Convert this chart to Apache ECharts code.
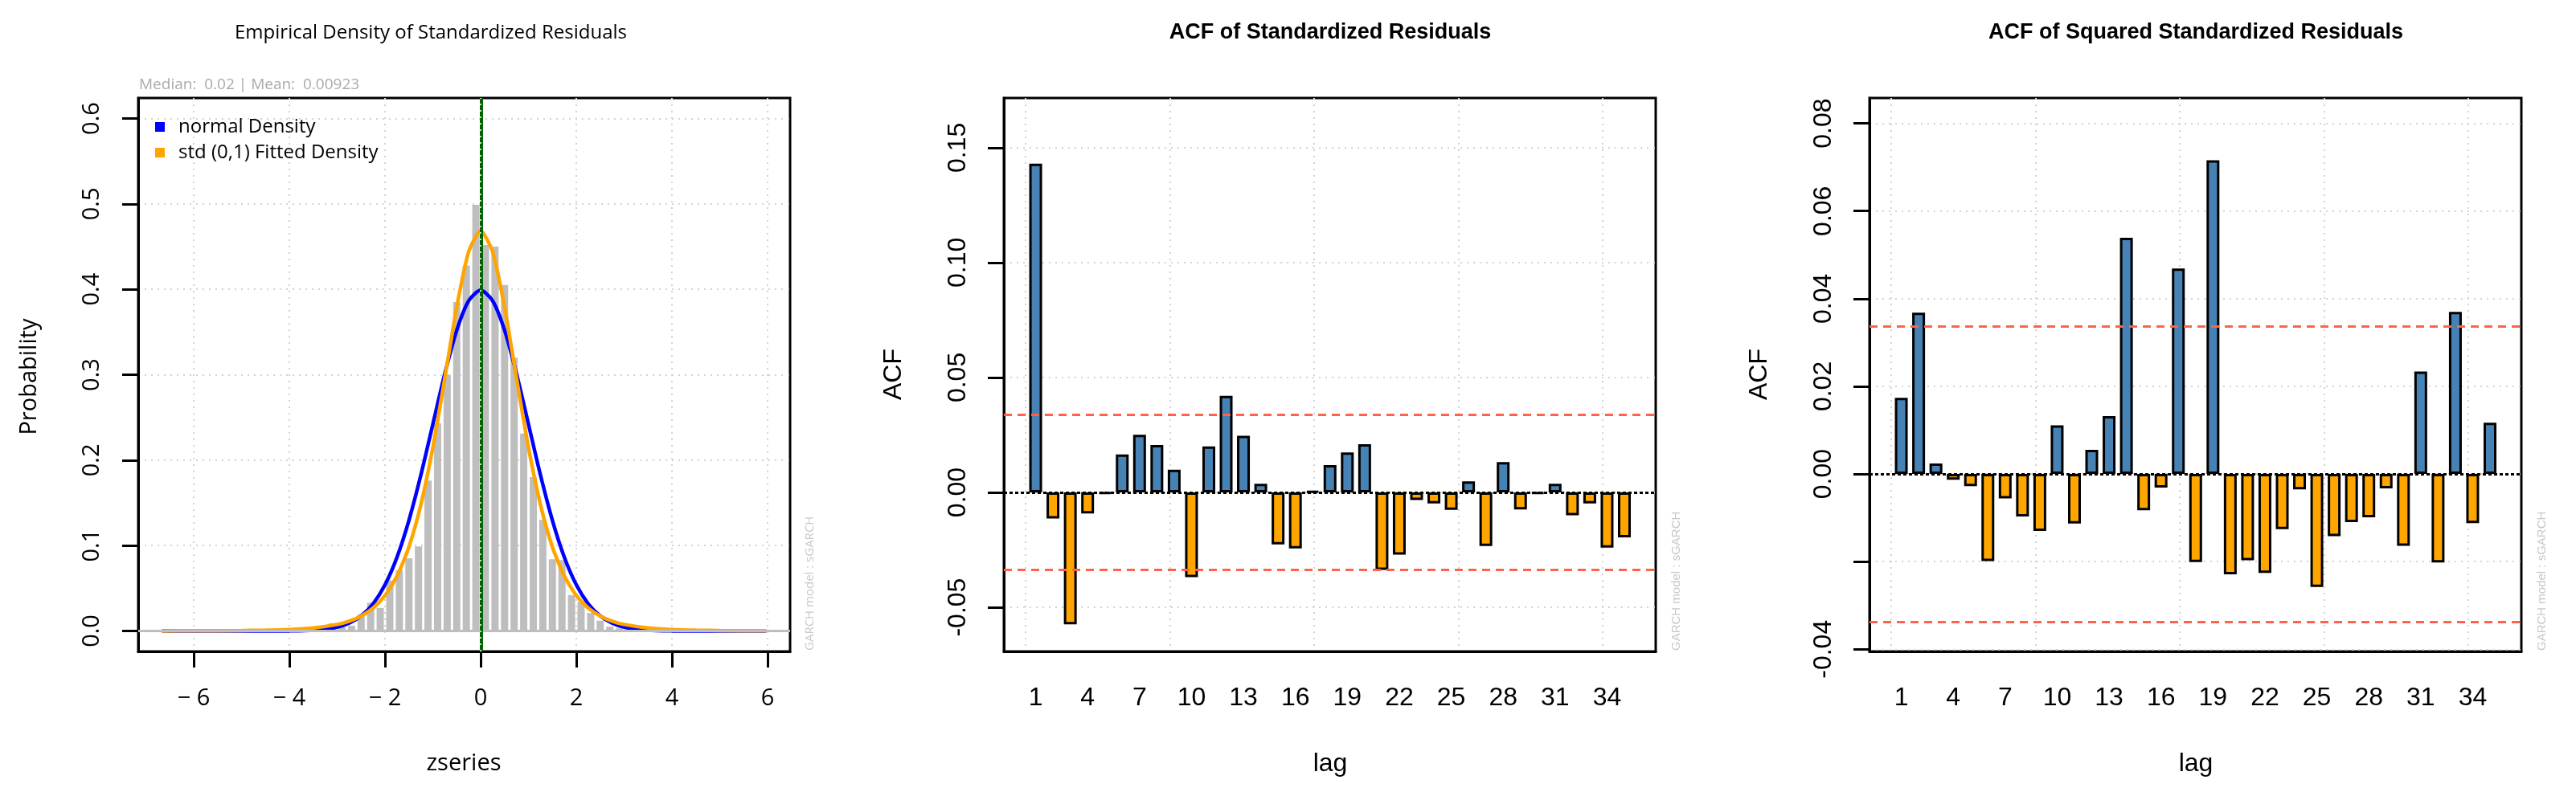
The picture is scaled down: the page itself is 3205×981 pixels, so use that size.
<!DOCTYPE html>
<html><head><meta charset="utf-8">
<script src="https://cdn.jsdelivr.net/npm/echarts@6/dist/echarts.min.js"></script>
<style>html,body{margin:0;padding:0;background:#fff}#c{width:3205px;height:981px}</style>
</head><body><div id="c"></div><script>
// ---------------- data ----------------
const histMid = [-3.7,-3.5,-3.3,-3.1,-2.9,-2.7,-2.5,-2.3,-2.1,-1.9,-1.7,-1.5,-1.3,-1.1,-0.9,-0.7,-0.5,-0.3,-0.1,0.1,0.3,0.5,0.7,0.9,1.1,1.3,1.5,1.7,1.9,2.1,2.3,2.5,2.7,2.9,3.1,3.3];
const histDensity = [0.001,0.002,0.003,0.009,0.004,0.006,0.0195,0.033,0.027,0.059,0.071,0.085,0.099,0.176,0.243,0.300,0.385,0.428,0.499,0.452,0.450,0.405,0.320,0.231,0.180,0.130,0.084,0.083,0.042,0.034,0.021,0.012,0.005,0.003,0.002,0.001];
const curveX = [-6.66,-6,-5,-4.5,-4,-3.5,-3,-2.75,-2.5,-2.25,-2,-1.75,-1.5,-1.25,-1,-0.75,-0.5,-0.25,0,0.25,0.5,0.75,1,1.25,1.5,1.75,2,2.25,2.5,2.75,3,3.5,4,4.5,5,5.97];
const normalDensity = [0,0,0,0,0.0001,0.0009,0.0044,0.0091,0.0175,0.0317,0.0540,0.0863,0.1295,0.1826,0.2420,0.3011,0.3521,0.3867,0.3989,0.3867,0.3521,0.3011,0.2420,0.1826,0.1295,0.0863,0.0540,0.0317,0.0175,0.0091,0.0044,0.0009,0.0001,0,0,0];
const stdDensity = [0.00007,0.00015,0.00046,0.00085,0.0017,0.0035,0.0076,0.0114,0.0174,0.0268,0.0414,0.0641,0.0983,0.1478,0.2147,0.2958,0.3792,0.4441,0.4688,0.4441,0.3792,0.2958,0.2147,0.1478,0.0983,0.0641,0.0414,0.0268,0.0174,0.0114,0.0076,0.0035,0.0017,0.00085,0.00046,0.00015];
const medianZ = 0.02;
const meanZ = 0.00923;
const densityXTicks = [-6,-4,-2,0,2,4,6];
const densityYTicks = [0,0.1,0.2,0.3,0.4,0.5,0.6];

const lags = [1,2,3,4,5,6,7,8,9,10,11,12,13,14,15,16,17,18,19,20,21,22,23,24,25,26,27,28,29,30,31,32,33,34,35];
const acfResid = [0.1430,-0.0114,-0.0574,-0.0092,-0.0006,0.0165,0.0251,0.0206,0.0099,-0.0369,0.0200,0.0420,0.0246,0.0038,-0.0226,-0.0244,0.0005,0.0119,0.0174,0.0210,-0.0337,-0.0271,-0.0033,-0.0048,-0.0076,0.0048,-0.0233,0.0132,-0.0074,-0.0005,0.0038,-0.0100,-0.0048,-0.0240,-0.0196];
const acfSqResid = [0.0174,0.0368,0.0024,-0.0013,-0.0028,-0.0199,-0.0056,-0.0097,-0.0130,0.0111,-0.0113,0.0055,0.0132,0.0539,-0.0083,-0.0031,0.0469,-0.0201,0.0716,-0.0229,-0.0197,-0.0226,-0.0126,-0.0035,-0.0258,-0.0142,-0.0110,-0.0099,-0.0033,-0.0164,0.0234,-0.0202,0.0370,-0.0112,0.0117];
const confBound = 0.0337;
const acfLagLabels = [1,4,7,10,13,16,19,22,25,28,31,34];
const acfGridLags = [0.42,8.75,17.08,25.42,33.75];
const acfYTicks = [-0.05,0,0.05,0.10,0.15];
const sqYTicks = [-0.04,-0.02,0,0.02,0.04,0.06,0.08];

// ---------------- chart ----------------
const chart = echarts.init(document.getElementById('c'), null, {renderer:'canvas'});
const OPEN = 'Open Sans';
const ARIAL = 'Liberation Sans';
const gridLine = {show:true, lineStyle:{color:'#D3D3D3', width:2, type:[2,6]}};
const tick = {show:true, length:20, inside:false, lineStyle:{color:'#000', width:3}};
const axLine = {show:true, onZero:false, lineStyle:{color:'#000', width:3}};

function gridBox(left, top){
  return {left:left, top:top, width:811, height:689, show:true, borderColor:'#000', borderWidth:3, backgroundColor:'rgba(0,0,0,0)', containLabel:false};
}

const option = {
  animation:false,
  backgroundColor:'#fff',
  grid:[gridBox(172,122), gridBox(1249,122), gridBox(2326,122)],
  legend:{
    left:188, top:141, orient:'vertical', itemWidth:12, itemHeight:12, itemGap:8, icon:'rect',
    textStyle:{fontFamily:OPEN, fontSize:24, color:'#000', padding:[0,0,0,12]},
    data:['normal Density','std (0,1) Fitted Density']
  },
  xAxis:[
    {gridIndex:0, type:'value', min:-7.16, max:6.47,
      axisLine:axLine, axisTick:Object.assign({customValues:densityXTicks}, tick),
      splitLine:gridLine,
      axisLabel:{customValues:densityXTicks, fontFamily:OPEN, fontSize:29, color:'#000', margin:44,
        formatter:v => v < 0 ? '\u2212 ' + Math.abs(v) : String(v)}},
    {gridIndex:1, type:'value', min:-0.836, max:36.81,
      axisLine:axLine, axisTick:{show:false, customValues:acfGridLags},
      splitLine:gridLine,
      axisLabel:{customValues:acfLagLabels, fontFamily:ARIAL, fontSize:32, color:'#000', margin:42}},
    {gridIndex:2, type:'value', min:-0.836, max:36.81,
      axisLine:axLine, axisTick:{show:false, customValues:acfGridLags},
      splitLine:gridLine,
      axisLabel:{customValues:acfLagLabels, fontFamily:ARIAL, fontSize:32, color:'#000', margin:42}}
  ],
  yAxis:[
    {gridIndex:0, type:'value', min:-0.024, max:0.624,
      axisLine:axLine, axisTick:Object.assign({customValues:densityYTicks}, tick),
      splitLine:gridLine,
      axisLabel:{customValues:densityYTicks, rotate:90, fontFamily:OPEN, fontSize:29, color:'#000', margin:43,
        formatter:v => v.toFixed(1)}},
    {gridIndex:1, type:'value', min:-0.0692, max:0.1716,
      axisLine:axLine, axisTick:Object.assign({customValues:acfYTicks}, tick),
      splitLine:gridLine,
      axisLabel:{customValues:acfYTicks, rotate:90, fontFamily:ARIAL, fontSize:32, color:'#000', margin:41,
        formatter:v => v.toFixed(2)}},
    {gridIndex:2, type:'value', min:-0.0405, max:0.0858,
      axisLine:axLine, axisTick:Object.assign({customValues:sqYTicks}, tick),
      splitLine:gridLine,
      axisLabel:{customValues:sqYTicks, rotate:90, fontFamily:ARIAL, fontSize:32, color:'#000', margin:41,
        formatter:v => Math.abs(v + 0.02) < 1e-9 ? '' : v.toFixed(2)}}
  ],
  series:[
    {type:'bar', name:'hist', xAxisIndex:0, yAxisIndex:0, barWidth:9,
      itemStyle:{color:'#BEBEBE'},
      data:histMid.map((m,i)=>[m, histDensity[i]]),
      markLine:{silent:true, symbol:'none', precision:6, label:{show:false},
        lineStyle:{color:'#BEBEBE', width:3, type:'solid'}, data:[{yAxis:0}]}},
    {type:'line', name:'normal Density', xAxisIndex:0, yAxisIndex:0, showSymbol:false, smooth:0.25,
      color:'#0000FF', lineStyle:{color:'#0000FF', width:4.5},
      data:curveX.map((x,i)=>[x, normalDensity[i]])},
    {type:'line', name:'std (0,1) Fitted Density', xAxisIndex:0, yAxisIndex:0, showSymbol:false, smooth:0.2,
      color:'#FFA500', lineStyle:{color:'#FFA500', width:4.5},
      data:curveX.map((x,i)=>[x, stdDensity[i]]),
      markLine:{silent:true, symbol:'none', precision:6, label:{show:false}, z:10,
        data:[
          {xAxis:medianZ, lineStyle:{color:'#006400', width:4, type:'solid'}},
          {xAxis:0, lineStyle:{color:'#D3D3D3', width:2, type:[2,6]}}
        ]}},
    {type:'bar', name:'acf', xAxisIndex:1, yAxisIndex:1, barWidth:16,
      itemStyle:{borderColor:'#000', borderWidth:3,
        color:p => p.value[1] >= 0 ? '#4682B4' : '#FFA500'},
      data:lags.map((l,i)=>[l, acfResid[i]]),
      markLine:{silent:true, symbol:'none', precision:6, label:{show:false},
        data:[
          {yAxis:confBound, lineStyle:{color:'#FF6347', width:3, type:[10,7]}},
          {yAxis:-confBound, lineStyle:{color:'#FF6347', width:3, type:[10,7]}},
          {yAxis:0, lineStyle:{color:'#000', width:3, type:[4,3]}}
        ]}},
    {type:'bar', name:'acf2', xAxisIndex:2, yAxisIndex:2, barWidth:16,
      itemStyle:{borderColor:'#000', borderWidth:3,
        color:p => p.value[1] >= 0 ? '#4682B4' : '#FFA500'},
      data:lags.map((l,i)=>[l, acfSqResid[i]]),
      markLine:{silent:true, symbol:'none', precision:6, label:{show:false},
        data:[
          {yAxis:confBound, lineStyle:{color:'#FF6347', width:3, type:[10,7]}},
          {yAxis:-confBound, lineStyle:{color:'#FF6347', width:3, type:[10,7]}},
          {yAxis:0, lineStyle:{color:'#000', width:3, type:[4,3]}}
        ]}}
  ],
  graphic:[
    {type:'text', x:536, y:41, style:{text:'Empirical Density of Standardized Residuals', fontFamily:OPEN, fontSize:24, fill:'#000', align:'center', verticalAlign:'middle'}},
    {type:'text', x:173, y:106, style:{text:'Median:  ' + medianZ + ' | Mean:  ' + meanZ, fontFamily:OPEN, fontSize:19, fill:'#AAAAAA', align:'left', verticalAlign:'middle'}},
    {type:'text', x:37, y:469, rotation:Math.PI/2, style:{text:'Probability', fontFamily:OPEN, fontSize:29, fill:'#000', align:'center', verticalAlign:'middle'}},
    {type:'text', x:577, y:951, style:{text:'zseries', fontFamily:OPEN, fontSize:29, fill:'#000', align:'center', verticalAlign:'middle'}},
    {type:'text', x:1008, y:810, rotation:Math.PI/2, style:{text:'GARCH model : sGARCH', fontFamily:OPEN, fontSize:15, fill:'#C8C8C8', align:'left', verticalAlign:'middle'}},

    {type:'text', x:1655, y:41, style:{text:'ACF of Standardized Residuals', fontFamily:ARIAL, fontWeight:'bold', fontSize:27, fill:'#000', align:'center', verticalAlign:'middle'}},
    {type:'text', x:1112, y:466, rotation:Math.PI/2, style:{text:'ACF', fontFamily:ARIAL, fontSize:32, fill:'#000', align:'center', verticalAlign:'middle'}},
    {type:'text', x:1655, y:951, style:{text:'lag', fontFamily:ARIAL, fontSize:32, fill:'#000', align:'center', verticalAlign:'middle'}},
    {type:'text', x:2086, y:810, rotation:Math.PI/2, style:{text:'GARCH model : sGARCH', fontFamily:ARIAL, fontSize:15, fill:'#C8C8C8', align:'left', verticalAlign:'middle'}},

    {type:'text', x:2732, y:41, style:{text:'ACF of Squared Standardized Residuals', fontFamily:ARIAL, fontWeight:'bold', fontSize:27, fill:'#000', align:'center', verticalAlign:'middle'}},
    {type:'text', x:2189, y:466, rotation:Math.PI/2, style:{text:'ACF', fontFamily:ARIAL, fontSize:32, fill:'#000', align:'center', verticalAlign:'middle'}},
    {type:'text', x:2732, y:951, style:{text:'lag', fontFamily:ARIAL, fontSize:32, fill:'#000', align:'center', verticalAlign:'middle'}},
    {type:'text', x:3163, y:810, rotation:Math.PI/2, style:{text:'GARCH model : sGARCH', fontFamily:ARIAL, fontSize:15, fill:'#C8C8C8', align:'left', verticalAlign:'middle'}}
  ]
};
chart.setOption(option);
</script></body></html>
